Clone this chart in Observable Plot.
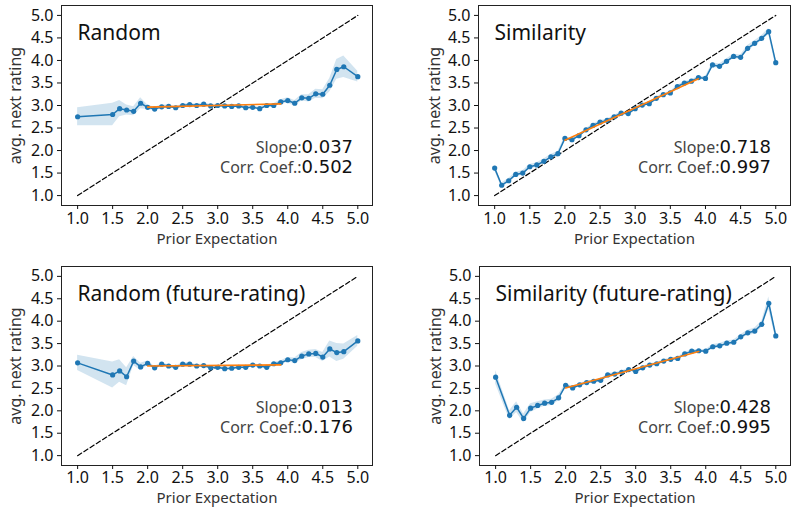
<!DOCTYPE html>
<html><head><meta charset="utf-8">
<script src="https://cdn.jsdelivr.net/npm/d3@7"></script>
<script src="https://cdn.jsdelivr.net/npm/@observablehq/plot@0.6"></script>
<style>
body{margin:0;background:#fff;}
#wrap{position:relative;width:792px;height:507px;overflow:hidden;background:#fff;}
.panel{position:absolute;}
</style></head><body><div id="wrap"></div>
<script>
// ---- shared axis values ----
const xTicks = [1.0, 1.5, 2.0, 2.5, 3.0, 3.5, 4.0, 4.5, 5.0];
const yTicks = [1.0, 1.5, 2.0, 2.5, 3.0, 3.5, 4.0, 4.5, 5.0];
const xDomain = [0.77, 5.21];
const yDomain = [0.78, 5.22];
const diagonal = [1.0, 5.0];
const fitRange = [2.0, 3.9];
const xLabel = "Prior Expectation";
const yLabel = "avg. next rating";

// ---- Random ----
const randomX = [1.0, 1.5, 1.6, 1.7, 1.8, 1.9,
  2.0, 2.1, 2.2, 2.3, 2.4, 2.5, 2.6, 2.7, 2.8, 2.9,
  3.0, 3.1, 3.2, 3.3, 3.4, 3.5, 3.6, 3.7, 3.8, 3.9,
  4.0, 4.1, 4.2, 4.3, 4.4, 4.5, 4.6, 4.7, 4.8, 5.0];
const randomY = [2.75, 2.80, 2.93, 2.90, 2.87, 3.05,
  2.96, 2.92, 2.97, 2.98, 2.95, 3.00, 3.02, 3.00, 3.03, 2.99,
  3.00, 2.99, 2.98, 2.99, 2.95, 2.96, 2.93, 3.00, 3.00, 3.08,
  3.11, 3.05, 3.17, 3.16, 3.26, 3.25, 3.45, 3.80, 3.86, 3.64];
const randomErr = [0.20, 0.25, 0.18, 0.11, 0.10, 0.12,
  0.05, 0.04, 0.04, 0.03, 0.03, 0.03, 0.03, 0.03, 0.03, 0.03,
  0.03, 0.03, 0.03, 0.03, 0.03, 0.03, 0.03, 0.04, 0.04, 0.05,
  0.06, 0.06, 0.07, 0.08, 0.10, 0.10, 0.15, 0.22, 0.24, 0.12];
const randomSlope = 0.037, randomCorr = 0.502, randomIntercept = 2.891;

// ---- Similarity ----
const simX = [1.0, 1.1, 1.2, 1.3, 1.4, 1.5, 1.6, 1.7, 1.8, 1.9,
  2.0, 2.1, 2.2, 2.3, 2.4, 2.5, 2.6, 2.7, 2.8, 2.9,
  3.0, 3.1, 3.2, 3.3, 3.4, 3.5, 3.6, 3.7, 3.8, 3.9,
  4.0, 4.1, 4.2, 4.3, 4.4, 4.5, 4.6, 4.7, 4.8, 4.9, 5.0];
const simY = [1.61, 1.23, 1.33, 1.47, 1.50, 1.64, 1.68, 1.76, 1.86, 1.93,
  2.27, 2.24, 2.33, 2.46, 2.56, 2.63, 2.67, 2.75, 2.83, 2.82,
  2.93, 3.01, 3.04, 3.16, 3.24, 3.28, 3.42, 3.50, 3.54, 3.62,
  3.60, 3.90, 3.87, 3.98, 4.09, 4.07, 4.27, 4.38, 4.49, 4.64, 3.95];
const simErr = [0.06, 0.05, 0.05, 0.05, 0.05, 0.05, 0.05, 0.05, 0.05, 0.05,
  0.04, 0.03, 0.03, 0.03, 0.03, 0.03, 0.03, 0.03, 0.03, 0.03,
  0.03, 0.03, 0.03, 0.03, 0.03, 0.03, 0.03, 0.03, 0.03, 0.03,
  0.04, 0.05, 0.05, 0.05, 0.05, 0.05, 0.06, 0.06, 0.06, 0.07, 0.08];
const simSlope = 0.718, simCorr = 0.997, simIntercept = 0.794;

// ---- Random (future-rating) ----
const rfX = [1.0, 1.5, 1.6, 1.7, 1.8, 1.9,
  2.0, 2.1, 2.2, 2.3, 2.4, 2.5, 2.6, 2.7, 2.8, 2.9,
  3.0, 3.1, 3.2, 3.3, 3.4, 3.5, 3.6, 3.7, 3.8, 3.9,
  4.0, 4.1, 4.2, 4.3, 4.4, 4.5, 4.6, 4.7, 4.8, 5.0];
const rfY = [3.07, 2.80, 2.89, 2.76, 3.11, 2.98,
  3.06, 2.96, 3.04, 3.00, 2.97, 3.04, 3.04, 3.00, 3.01, 2.96,
  2.97, 2.94, 2.95, 2.97, 2.97, 3.02, 3.00, 2.97, 3.05, 3.07,
  3.14, 3.12, 3.22, 3.27, 3.28, 3.20, 3.38, 3.30, 3.32, 3.56];
const rfErr = [0.17, 0.29, 0.25, 0.20, 0.10, 0.08,
  0.05, 0.03, 0.03, 0.03, 0.03, 0.03, 0.03, 0.03, 0.03, 0.03,
  0.03, 0.03, 0.03, 0.03, 0.03, 0.03, 0.03, 0.03, 0.03, 0.04,
  0.05, 0.06, 0.08, 0.08, 0.09, 0.10, 0.18, 0.20, 0.17, 0.12];
const rfSlope = 0.013, rfCorr = 0.176, rfIntercept = 2.974;

// ---- Similarity (future-rating) ----
const sfX = [1.0, 1.2, 1.3, 1.4, 1.5, 1.6, 1.7, 1.8, 1.9,
  2.0, 2.1, 2.2, 2.3, 2.4, 2.5, 2.6, 2.7, 2.8, 2.9,
  3.0, 3.1, 3.2, 3.3, 3.4, 3.5, 3.6, 3.7, 3.8, 3.9,
  4.0, 4.1, 4.2, 4.3, 4.4, 4.5, 4.6, 4.7, 4.8, 4.9, 5.0];
const sfY = [2.75, 1.90, 2.08, 1.83, 2.06, 2.12, 2.17, 2.19, 2.29,
  2.57, 2.51, 2.58, 2.63, 2.66, 2.68, 2.80, 2.82, 2.86, 2.92,
  2.88, 2.96, 3.02, 3.05, 3.11, 3.15, 3.17, 3.27, 3.33, 3.34,
  3.33, 3.43, 3.45, 3.51, 3.53, 3.65, 3.74, 3.78, 3.93, 4.40, 3.67];
const sfErr = [0.15, 0.10, 0.12, 0.10, 0.10, 0.08, 0.07, 0.07, 0.07,
  0.04, 0.04, 0.03, 0.03, 0.03, 0.03, 0.03, 0.03, 0.03, 0.03,
  0.03, 0.03, 0.03, 0.03, 0.03, 0.03, 0.03, 0.03, 0.03, 0.03,
  0.03, 0.05, 0.05, 0.05, 0.05, 0.05, 0.06, 0.07, 0.07, 0.14, 0.07];
const sfSlope = 0.428, sfCorr = 0.995, sfIntercept = 1.654;

const BLUE = "#1f77b4", ORANGE = "#ff7f0e";
const f1 = d3.format(".1f"), f3 = d3.format(".3f");

function makePanel(p) {
  const pts = p.xs.map((x, i) => ({x, y: p.ys[i], lo: p.ys[i] - p.errs[i], hi: p.ys[i] + p.errs[i]}));
  const fit = fitRange.map(x => ({x, y: p.slope * x + p.intercept}));
  const diag = diagonal.map(v => ({x: v, y: v}));
  return Plot.plot({
    width: p.w, height: p.h,
    marginLeft: p.ml, marginRight: p.mr, marginTop: p.mt, marginBottom: p.mb,
    x: {domain: xDomain},
    y: {domain: yDomain},
    style: {fontFamily: "'Noto Sans', sans-serif", fontSize: "16px", background: "transparent", color: "#111", overflow: "visible"},
    marks: [
      Plot.areaY(pts, {x: "x", y1: "lo", y2: "hi", fill: BLUE, fillOpacity: 0.2}),
      Plot.line(diag, {x: "x", y: "y", stroke: "#000", strokeWidth: 1.2, strokeDasharray: "4.8,2.6"}),
      Plot.line(pts, {x: "x", y: "y", stroke: BLUE, strokeWidth: 1.5}),
      Plot.dot(pts, {x: "x", y: "y", r: 2.6, fill: BLUE}),
      Plot.line(fit, {x: "x", y: "y", stroke: ORANGE, strokeWidth: 1.6}),
      Plot.frame({stroke: "#222", strokeWidth: 1}),
      Plot.axisX(xTicks, {tickSize: 4, tickPadding: p.tp, fontSize: 16, tickFormat: f1, label: null}),
      Plot.axisY(yTicks, {tickSize: 4, tickPadding: 4, fontSize: 16, tickFormat: f1, label: null}),
      Plot.text([p.title], {text: d => d, frameAnchor: "top-left", dx: 16, dy: 34, lineAnchor: "bottom", textAnchor: "start", fontSize: 21, fill: "#111"}),
      Plot.text(["Slope:"], {text: d => d, frameAnchor: "bottom-right", dx: -71, dy: -53, lineAnchor: "bottom", textAnchor: "end", fontSize: 16, fill: "#444"}),
      Plot.text([p.slope], {text: d => f3(d), frameAnchor: "bottom-right", dx: -71, dy: -53, lineAnchor: "bottom", textAnchor: "start", fontSize: 18, fontFamily: "'DejaVu Sans', sans-serif", fill: "#111"}),
      Plot.text(["Corr. Coef.:"], {text: d => d, frameAnchor: "bottom-right", dx: -71, dy: -33, lineAnchor: "bottom", textAnchor: "end", fontSize: 16, fill: "#444"}),
      Plot.text([p.corr], {text: d => f3(d), frameAnchor: "bottom-right", dx: -71, dy: -33, lineAnchor: "bottom", textAnchor: "start", fontSize: 18, fontFamily: "'DejaVu Sans', sans-serif", fill: "#111"}),
      Plot.text([xLabel], {text: d => d, frameAnchor: "bottom", dy: p.xlDy, lineAnchor: "bottom", fontSize: 15, fill: "#333"}),
      Plot.text([yLabel], {text: d => d, frameAnchor: "left", dx: p.ylDx, rotate: -90, lineAnchor: "middle", textAnchor: "middle", fontSize: 16, fill: "#333"})
    ]
  });
}

const panels = [
  {title: "Random", xs: randomX, ys: randomY, errs: randomErr, slope: randomSlope, corr: randomCorr, intercept: randomIntercept,
   left: 0, top: 0, w: 396, h: 253, ml: 61, mr: 24, mt: 5, mb: 48, xlDy: 38.5, ylDx: -46, tp: 3},
  {title: "Similarity", xs: simX, ys: simY, errs: simErr, slope: simSlope, corr: simCorr, intercept: simIntercept,
   left: 396, top: 0, w: 396, h: 253, ml: 82, mr: 2, mt: 5, mb: 48, xlDy: 38.5, ylDx: -44, tp: 3},
  {title: "Random (future-rating)", xs: rfX, ys: rfY, errs: rfErr, slope: rfSlope, corr: rfCorr, intercept: rfIntercept,
   left: 0, top: 261, w: 396, h: 246, ml: 61, mr: 24, mt: 5, mb: 42, xlDy: 37.5, ylDx: -46, tp: 2},
  {title: "Similarity (future-rating)", xs: sfX, ys: sfY, errs: sfErr, slope: sfSlope, corr: sfCorr, intercept: sfIntercept,
   left: 396, top: 261, w: 396, h: 246, ml: 83, mr: 2, mt: 5, mb: 42, xlDy: 37.5, ylDx: -44, tp: 2}
];

const wrap = document.getElementById("wrap");
for (const p of panels) {
  const div = document.createElement("div");
  div.className = "panel";
  div.style.left = p.left + "px";
  div.style.top = p.top + "px";
  div.appendChild(makePanel(p));
  wrap.appendChild(div);
}
</script>
</body></html>
